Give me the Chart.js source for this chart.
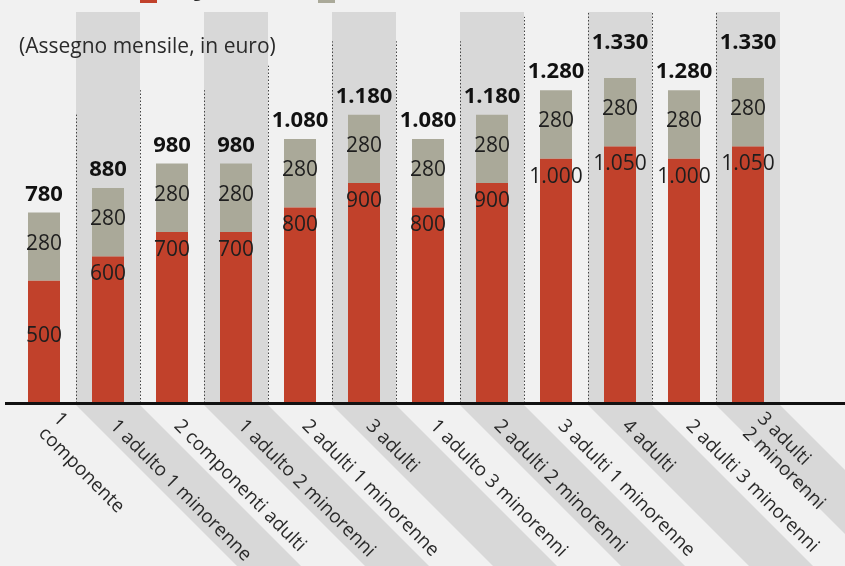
<!DOCTYPE html>
<html>
<head>
<meta charset="utf-8">
<script src="https://cdn.jsdelivr.net/npm/chart.js@4"></script>
<style>
  html, body { margin: 0; padding: 0; background: #f1f1f1; overflow: hidden; }
  #wrap { width: 845px; height: 566px; }
</style>
</head>
<body>
<div id="wrap"><canvas id="chart" width="845" height="566"></canvas></div>
<script>
const categories = [
    ['1', 'componente'],
    '1 adulto 1 minorenne',
    '2 componenti adulti',
    '1 adulto 2 minorenni',
    '2 adulti 1 minorenne',
    '3 adulti',
    '1 adulto 3 minorenni',
    '2 adulti 2 minorenni',
    '3 adulti 1 minorenne',
    '4 adulti',
    '2 adulti 3 minorenni',
    ['3 adulti', '2 minorenni']
];
const integrazione = [500, 600, 700, 700, 800, 900, 800, 900, 1000, 1050, 1000, 1050];
const affitto = [280, 280, 280, 280, 280, 280, 280, 280, 280, 280, 280, 280];
const seriesNames = ['Integrazione al reddito', 'Contributo affitto'];
const title = '(Assegno mensile, in euro)';

const RED = '#c1412b';
const GREY = '#aaa999';
const BAND = '#d8d8d8';
const BG = '#f1f1f1';
const FONT = '"Open Sans", "Noto Sans", sans-serif';

const totals = integrazione.map((v, i) => v + affitto[i]);
const maxTotal = Math.max(...totals);

function fmt(v) {
    return String(v).replace(/\B(?=(\d{3})+(?!\d))/g, '.');
}

// background, column bands, diagonal label bands, dotted separators
const backdrop = {
    id: 'backdrop',
    beforeDraw(chart) {
        const ctx = chart.ctx;
        const area = chart.chartArea;
        const x = chart.scales.x;
        const y = chart.scales.y;
        const step = x.getPixelForValue(1) - x.getPixelForValue(0);
        ctx.save();
        ctx.fillStyle = BG;
        ctx.fillRect(0, 0, chart.width, chart.height);

        ctx.fillStyle = BAND;
        categories.forEach((c, i) => {
            if (i % 2 === 0) return;
            const left = x.getPixelForValue(i) - step / 2;
            ctx.fillRect(left, area.top, step, area.bottom - area.top);
            // diagonal band under the axis
            const top = area.bottom + 2;
            const h = chart.height - top;
            ctx.beginPath();
            ctx.moveTo(left, top);
            ctx.lineTo(left + step, top);
            ctx.lineTo(left + step + h, top + h);
            ctx.lineTo(left + h, top + h);
            ctx.closePath();
            ctx.fill();
        });

        // dotted separators between columns
        ctx.strokeStyle = '#444';
        ctx.lineWidth = 1;
        ctx.setLineDash([1.5, 2]);
        for (let i = 0; i < categories.length - 1; i++) {
            const sx = Math.round((x.getPixelForValue(i) + x.getPixelForValue(i + 1)) / 2) + 0.5;
            const topVal = Math.max(totals[i], totals[i + 1]) + 300;
            const sy = Math.max(area.top, y.getPixelForValue(topVal));
            ctx.beginPath();
            ctx.moveTo(sx, area.bottom);
            ctx.lineTo(sx, sy);
            ctx.stroke();
        }
        ctx.restore();
    }
};

// axis line, labels, title, legend
const overlay = {
    id: 'overlay',
    afterDatasetsDraw(chart) {
        const ctx = chart.ctx;
        const area = chart.chartArea;
        const x = chart.scales.x;
        ctx.save();

        // baseline
        ctx.fillStyle = '#111';
        ctx.fillRect(5, area.bottom - 1, chart.width - 5, 3);

        // segment values
        ctx.fillStyle = '#1e1e1e';
        ctx.textAlign = 'center';
        ctx.textBaseline = 'middle';
        ctx.font = '21px ' + FONT;
        const redBars = chart.getDatasetMeta(0).data;
        const greyBars = chart.getDatasetMeta(1).data;
        redBars.forEach((bar, i) => {
            const ly = i === 0 ? (bar.y + bar.base) / 2 - 6 : bar.y + 18;
            ctx.fillText(fmt(integrazione[i]), bar.x, ly);
        });
        greyBars.forEach((bar, i) => {
            ctx.fillText(fmt(affitto[i]), bar.x, (bar.y + bar.base) / 2 - 3);
        });

        // totals
        ctx.font = 'bold 22px ' + FONT;
        ctx.fillStyle = '#111';
        greyBars.forEach((bar, i) => {
            const off = totals[i] === maxTotal ? 35 : 18;
            ctx.fillText(fmt(totals[i]), bar.x, bar.y - off);
        });

        // category labels, rotated 45 degrees clockwise
        ctx.font = '19px ' + FONT;
        ctx.fillStyle = '#2a2a2a';
        ctx.textAlign = 'left';
        const lh = 21;
        const s = Math.SQRT1_2;
        categories.forEach((c, i) => {
            const lines = Array.isArray(c) ? c : [c];
            const ax = x.getPixelForValue(i) + 5;
            const ay = area.bottom + 20;
            lines.forEach((line, k) => {
                const o = (k - (lines.length - 1) / 2) * lh;
                ctx.save();
                ctx.translate(ax - o * s, ay + o * s);
                ctx.rotate(Math.PI / 4);
                ctx.fillText(line, 0, 0);
                ctx.restore();
            });
        });

        // title
        ctx.font = '21px ' + FONT;
        ctx.fillStyle = '#2a2a2a';
        ctx.textBaseline = 'middle';
        ctx.fillText(title, 19, 47);

        // legend, mostly cut off at the top edge
        const legendX = [140, 318];
        chart.data.datasets.forEach((ds, i) => {
            ctx.fillStyle = ds.backgroundColor;
            ctx.fillRect(legendX[i], -14, 17, 17);
            ctx.fillStyle = '#2a2a2a';
            ctx.font = '16px ' + FONT;
            ctx.fillText(ds.label, legendX[i] + 24, -8);
        });

        ctx.restore();
    }
};

new Chart(document.getElementById('chart').getContext('2d'), {
    type: 'bar',
    data: {
        labels: categories,
        datasets: [
            { label: seriesNames[0], data: integrazione, backgroundColor: RED, barPercentage: 0.5, categoryPercentage: 1.0 },
            { label: seriesNames[1], data: affitto, backgroundColor: GREY, barPercentage: 0.5, categoryPercentage: 1.0 }
        ]
    },
    options: {
        responsive: false,
        animation: false,
        devicePixelRatio: 1,
        layout: { padding: { left: 12, right: 65, top: 12, bottom: 163 } },
        plugins: {
            legend: { display: false },
            tooltip: { enabled: false },
            title: { display: false }
        },
        scales: {
            x: { stacked: true, display: false },
            y: { stacked: true, display: false, min: 0, max: 1600 }
        }
    },
    plugins: [backdrop, overlay]
});
</script>
</body>
</html>
